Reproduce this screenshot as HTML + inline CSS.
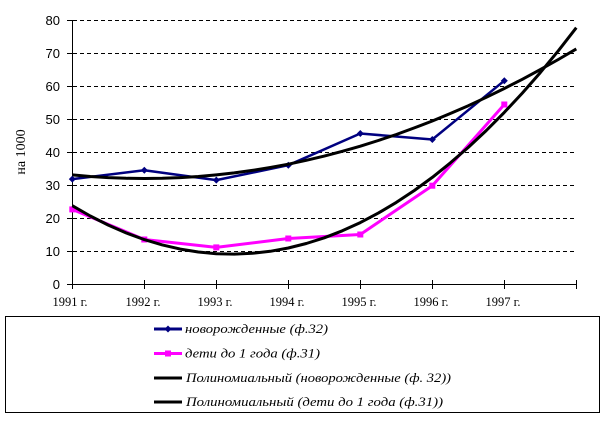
<!DOCTYPE html>
<html><head><meta charset="utf-8"><style>
html,body{margin:0;padding:0;background:#fff;}
svg{display:block;}
</style></head><body>
<svg width="603" height="421" viewBox="0 0 603 421" xmlns="http://www.w3.org/2000/svg">
<rect width="603" height="421" fill="#fff"/>
<!-- gridlines -->
<g stroke="#000" stroke-width="1" stroke-dasharray="4,3" fill="none">
<line x1="73" y1="20.5" x2="577" y2="20.5"/>
<line x1="73" y1="53.5" x2="577" y2="53.5"/>
<line x1="73" y1="86.5" x2="577" y2="86.5"/>
<line x1="73" y1="119.5" x2="577" y2="119.5"/>
<line x1="73" y1="152.5" x2="577" y2="152.5"/>
<line x1="73" y1="185.5" x2="577" y2="185.5"/>
<line x1="73" y1="218.5" x2="577" y2="218.5"/>
<line x1="73" y1="251.5" x2="577" y2="251.5"/>
</g>
<!-- axes -->
<g stroke="#000" stroke-width="1" fill="none">
<line x1="72.5" y1="20" x2="72.5" y2="285"/>
<line x1="72" y1="284.5" x2="577" y2="284.5"/>
<line x1="67" y1="20.5" x2="77" y2="20.5"/>
<line x1="67" y1="53.5" x2="77" y2="53.5"/>
<line x1="67" y1="86.5" x2="77" y2="86.5"/>
<line x1="67" y1="119.5" x2="77" y2="119.5"/>
<line x1="67" y1="152.5" x2="77" y2="152.5"/>
<line x1="67" y1="185.5" x2="77" y2="185.5"/>
<line x1="67" y1="218.5" x2="77" y2="218.5"/>
<line x1="67" y1="251.5" x2="77" y2="251.5"/>
<line x1="67" y1="284.5" x2="77" y2="284.5"/>
<line x1="72.5" y1="280" x2="72.5" y2="289"/>
<line x1="144.5" y1="280" x2="144.5" y2="289"/>
<line x1="216.5" y1="280" x2="216.5" y2="289"/>
<line x1="288.5" y1="280" x2="288.5" y2="289"/>
<line x1="360.5" y1="280" x2="360.5" y2="289"/>
<line x1="432.5" y1="280" x2="432.5" y2="289"/>
<line x1="504.5" y1="280" x2="504.5" y2="289"/>
<line x1="576.5" y1="280" x2="576.5" y2="289"/>
</g>
<!-- y labels -->
<g font-family="'Liberation Sans', sans-serif" font-size="13" fill="#000" text-anchor="end">
<text x="60" y="25">80</text>
<text x="60" y="58">70</text>
<text x="60" y="91">60</text>
<text x="60" y="124">50</text>
<text x="60" y="157">40</text>
<text x="60" y="190">30</text>
<text x="60" y="223">20</text>
<text x="60" y="256">10</text>
<text x="60" y="289">0</text>
</g>
<text transform="translate(25,152) rotate(-90)" font-family="'Liberation Serif', serif" font-size="14" text-anchor="middle">на 1000</text>
<!-- x labels -->
<g font-family="'Liberation Serif', serif" font-size="12.5" fill="#000" text-anchor="middle">
<text x="70" y="306">1991 г.</text>
<text x="143" y="306">1992 г.</text>
<text x="215" y="306">1993 г.</text>
<text x="287" y="306">1994 г.</text>
<text x="359" y="306">1995 г.</text>
<text x="431" y="306">1996 г.</text>
<text x="503" y="306">1997 г.</text>
</g>
<!-- data series -->
<polyline fill="none" stroke="#000080" stroke-width="2.5" stroke-linejoin="round" points="72.3,179.1 144.3,170.2 216.3,180.1 288.3,165.2 360.3,133.5 432.3,139.5 504.3,80.7"/>
<g fill="#000080">
<polygon points="72.3,175.6 75.8,179.1 72.3,182.6 68.8,179.1"/>
<polygon points="144.3,166.7 147.8,170.2 144.3,173.7 140.8,170.2"/>
<polygon points="216.3,176.6 219.8,180.1 216.3,183.6 212.8,180.1"/>
<polygon points="288.3,161.7 291.8,165.2 288.3,168.7 284.8,165.2"/>
<polygon points="360.3,130 363.8,133.5 360.3,137 356.8,133.5"/>
<polygon points="432.3,136 435.8,139.5 432.3,143 428.8,139.5"/>
<polygon points="504.3,77.2 507.8,80.7 504.3,84.2 500.8,80.7"/>
</g>
<polyline fill="none" stroke="#ff00ff" stroke-width="3" stroke-linejoin="round" points="72.3,209.4 144.3,239.5 216.3,247.4 288.3,238.5 360.3,234.5 432.3,185.7 504.3,104.5"/>
<g fill="#ff00ff">
<rect x="69.3" y="206.4" width="6" height="6"/>
<rect x="141.3" y="236.5" width="6" height="6"/>
<rect x="213.3" y="244.4" width="6" height="6"/>
<rect x="285.3" y="235.5" width="6" height="6"/>
<rect x="357.3" y="231.5" width="6" height="6"/>
<rect x="429.3" y="182.7" width="6" height="6"/>
<rect x="501.3" y="101.5" width="6" height="6"/>
</g>
<!-- trend lines -->
<polyline fill="none" stroke="#000" stroke-width="3" stroke-linejoin="round" points="72.3,174.9 90.3,176.5 108.3,177.6 126.3,178.3 144.3,178.5 162.3,178.3 180.3,177.6 198.3,176.5 216.3,174.9 234.3,172.9 252.3,170.4 270.3,167.5 288.3,164.2 306.3,160.3 324.3,156.1 342.3,151.3 360.3,146.2 378.3,140.5 396.3,134.5 414.3,127.9 432.3,121.0 450.3,113.5 468.3,105.7 486.3,97.3 504.3,88.5 522.3,79.3 540.3,69.6 558.3,59.5 576.3,48.9"/>
<polyline fill="none" stroke="#000" stroke-width="3" stroke-linejoin="round" points="72.3,205.7 90.3,216.0 108.3,225.1 126.3,233.0 144.3,239.6 162.3,244.9 180.3,249.1 198.3,252.0 216.3,253.7 234.3,254.1 252.3,253.3 270.3,251.3 288.3,248.0 306.3,243.5 324.3,237.8 342.3,230.8 360.3,222.6 378.3,213.1 396.3,202.4 414.3,190.5 432.3,177.4 450.3,162.9 468.3,147.4 486.3,130.5 504.3,112.4 522.3,93.1 540.3,72.6 558.3,50.8 576.3,27.7"/>
<!-- legend -->
<rect x="5.5" y="316.5" width="594" height="96" fill="#fff" stroke="#000" stroke-width="1"/>
<line x1="154" y1="329" x2="182" y2="329" stroke="#000080" stroke-width="3"/>
<polygon points="168,325.5 171.5,329 168,332.5 164.5,329" fill="#000080"/>
<line x1="154" y1="353.5" x2="182" y2="353.5" stroke="#ff00ff" stroke-width="3"/>
<rect x="165" y="350.5" width="6" height="6" fill="#ff00ff"/>
<line x1="154" y1="378" x2="182" y2="378" stroke="#000" stroke-width="3"/>
<line x1="154" y1="402" x2="182" y2="402" stroke="#000" stroke-width="3"/>
<g font-family="'Liberation Serif', serif" font-style="italic" font-size="12.5" fill="#000">
<text x="185" y="333" textLength="143" lengthAdjust="spacingAndGlyphs">новорожденные (ф.32)</text>
<text x="185" y="357.5" textLength="135" lengthAdjust="spacingAndGlyphs">дети до 1 года (ф.31)</text>
<text x="186" y="382" textLength="265" lengthAdjust="spacingAndGlyphs">Полиномиальный (новорожденные (ф. 32))</text>
<text x="186" y="406" textLength="257" lengthAdjust="spacingAndGlyphs">Полиномиальный (дети до 1 года (ф.31))</text>
</g>
</svg>
</body></html>
